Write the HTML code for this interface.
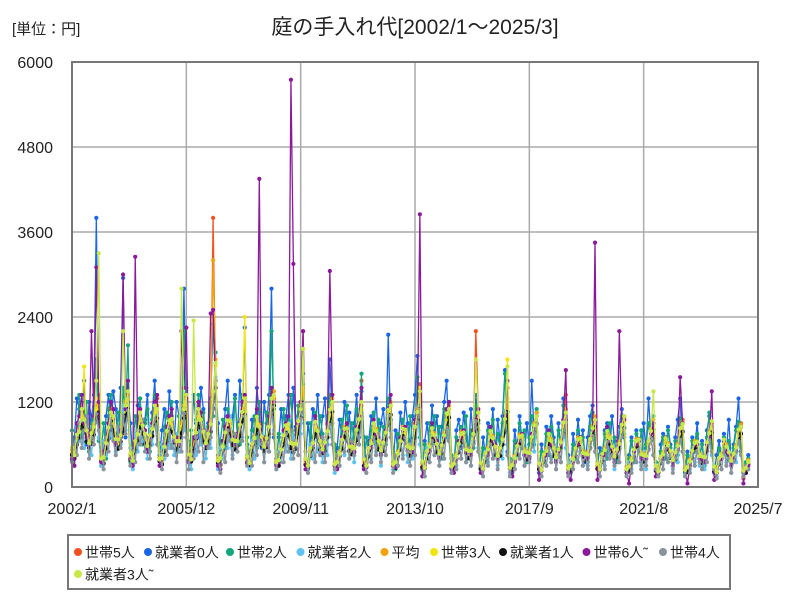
<!DOCTYPE html>
<html><head><meta charset="utf-8">
<style>
html,body{margin:0;padding:0;background:#fff;}
svg text{font-family:"Liberation Sans","Noto Sans CJK JP",sans-serif;fill:#222;}
</style></head>
<body>
<svg id="chart" width="800" height="600" viewBox="0 0 800 600" xmlns="http://www.w3.org/2000/svg">
<rect width="800" height="600" fill="#fff"/>
<text x="12" y="34" font-size="15">[単位：円]</text>
<text x="415" y="34" font-size="21" text-anchor="middle">庭の手入れ代[2002/1～2025/3]</text>
<g id="grid"></g>
<g id="series"></g>
<rect x="72" y="62" width="686" height="425" fill="none" stroke="#777" stroke-width="2"/>
<g id="axes"></g>
<rect x="68" y="535" width="662" height="54" fill="#fff" stroke="#777" stroke-width="2"/>
<g id="legend"></g>
</svg>
<script>
const yTicks=[0,1200,2400,3600,4800,6000];
const xTickLabels=["2002/1","2005/12","2009/11","2013/10","2017/9","2021/8","2025/7"];
const xTickMonths=[0,47,94,141,188,235,282];
const seriesNames=["世帯5人","就業者0人","世帯2人","就業者2人","平均","世帯3人","就業者1人","世帯6人˜","世帯4人","就業者3人˜"];
const seriesColors=["#f4511e","#1a66e6","#13a67a","#5ec3f2","#f0a30a","#f2e40f","#111111","#8b1a9a","#8a939c","#c8e84a"];
const s5=[480,430,760,700,1200,900,820,600,800,950,1050,1300,300,420,700,900,980,1000,650,700,700,1000,1300,1200,400,350,680,850,1100,800,800,550,750,900,1000,1250,380,320,550,800,900,1000,700,680,600,950,1250,1400,400,460,700,750,1150,950,780,600,780,880,3800,1500,350,300,620,800,1000,850,760,580,700,900,1150,1100,420,330,600,700,1050,900,650,640,620,950,1300,1250,350,380,540,750,850,950,600,560,700,850,1200,2200,320,300,560,620,950,780,680,520,560,880,1100,1300,300,350,460,700,800,850,580,580,540,820,950,1500,380,280,560,600,900,780,650,500,640,760,1100,1150,320,340,480,660,820,820,560,540,540,900,1050,1450,280,330,500,560,850,700,620,470,600,720,1050,1100,330,260,420,620,740,780,520,510,500,760,2200,1050,290,310,480,520,800,680,580,440,560,650,980,1400,320,250,400,580,700,740,500,490,480,720,850,1000,260,300,460,500,760,640,560,420,540,620,920,1300,300,230,400,560,650,700,480,470,460,700,820,950,250,290,470,500,800,680,570,430,530,600,900,1000,290,220,380,540,640,680,460,450,440,650,780,900,230,270,420,460,700,580,500,380,490,580,850,950,280,210,360,510,620,640,440,420,420,630,760,850,220,260,400,440,680,560,480,370,470,560,820,900,120,280,360];
const w0=[380,700,1250,1100,900,1500,600,1200,950,1300,3800,900,620,350,1000,1300,800,1350,1100,600,1400,2950,700,1300,900,400,500,1150,1250,700,950,1300,600,1050,1500,850,450,800,1100,600,1350,900,650,1200,1000,700,2800,1100,350,650,1300,900,700,1400,1100,650,900,1250,2300,1500,900,400,600,1100,1500,650,1000,1300,700,1500,950,2250,600,350,950,700,1400,1050,550,1200,900,1300,2800,700,400,700,1100,650,1000,1300,700,1400,850,1000,1200,1600,350,900,600,1100,800,1300,650,1000,1250,600,1800,900,300,550,950,700,1200,650,1050,500,900,1300,700,1350,700,300,650,1000,800,1250,600,900,1100,650,2150,800,350,800,500,1050,700,1200,900,550,1000,1300,1850,700,250,650,900,500,1150,700,1000,450,850,1200,1500,650,400,300,800,950,550,1050,700,500,1100,650,1300,900,250,700,450,900,600,1100,500,950,650,1000,1650,500,350,250,800,550,1000,650,450,900,600,1500,700,1050,200,600,400,850,550,1000,700,400,900,550,1250,700,450,250,750,500,950,600,800,350,700,1000,1150,600,300,550,350,800,900,500,1000,650,400,850,1100,700,200,450,700,400,800,600,350,900,550,1250,700,450,350,200,600,750,450,850,600,300,700,950,1250,500,250,500,350,700,550,900,400,650,300,800,1000,600,200,450,650,400,750,500,950,350,600,850,1250,500,300,200,450];
const s2=[800,450,600,1300,700,1050,1200,500,900,1100,1800,650,500,900,400,1100,1300,800,600,1050,700,1400,1000,2000,350,600,1000,700,1250,600,900,1100,500,950,1300,800,600,350,850,1050,600,1200,700,500,1000,800,2200,950,450,800,500,950,1300,700,1050,600,850,1150,1000,1900,300,650,950,550,1100,800,600,1250,750,600,1300,900,700,300,800,1000,550,1200,900,500,1050,700,2200,1100,350,750,500,1100,700,950,1300,650,800,1150,900,1450,400,250,900,600,1050,650,1000,750,450,1000,1300,700,600,350,550,950,700,1150,500,900,650,1100,800,1600,300,700,450,800,1050,600,950,450,850,600,1250,950,500,250,750,550,950,800,450,1000,600,850,1550,700,250,600,400,900,600,1000,550,850,400,1100,700,1200,450,300,700,500,850,650,1000,400,800,550,1150,800,250,550,350,800,650,950,450,750,550,900,1600,600,400,200,650,450,900,550,800,350,700,1000,600,1100,250,500,350,750,450,850,600,400,800,550,1150,700,300,200,600,400,800,500,700,450,350,850,1050,600,450,250,500,750,400,900,550,700,350,650,1000,750,200,400,650,350,750,500,800,400,600,900,650,1000,350,200,500,700,400,800,550,350,650,450,970,600,200,450,300,650,500,750,400,600,300,700,1050,550,300,200,550,400,700,450,650,350,550,800,920,500,200,350,400];
const w2=[500,300,800,650,1000,550,850,700,450,900,1100,700,300,650,450,900,700,1000,500,800,600,1150,800,1150,550,250,750,500,950,650,750,400,850,600,990,800,300,600,400,850,550,900,450,750,500,1000,800,1080,500,250,700,450,900,600,800,400,700,550,1120,1550,250,550,400,750,550,1000,450,650,500,900,700,1030,450,250,650,400,850,600,750,350,700,500,1160,800,250,500,350,750,500,900,400,700,550,950,750,1200,400,200,600,400,800,500,700,350,650,450,1070,750,200,450,300,700,450,800,400,650,350,850,600,990,400,200,550,400,750,500,650,300,600,450,1030,700,250,450,300,650,450,750,350,600,400,850,1120,600,350,150,550,350,700,450,600,300,550,400,990,700,200,400,300,600,400,700,350,550,300,620,950,550,300,150,500,350,650,400,550,300,500,400,1070,600,200,350,250,550,400,650,300,500,350,700,500,900,300,150,450,300,600,400,550,250,500,350,950,550,200,350,250,500,350,600,300,450,300,650,740,500,300,150,450,300,650,450,550,250,500,350,730,840,150,350,250,500,350,580,300,500,250,600,700,450,300,150,400,250,570,350,500,250,450,350,690,790,150,300,250,450,350,560,300,450,250,550,680,450,250,150,400,250,550,350,500,200,420,350,670,760,150,300,250];
const avg=[520,480,700,820,1050,980,760,650,720,880,1150,1250,430,390,650,800,1100,950,700,640,760,900,1200,1300,450,400,620,780,1000,900,720,600,700,850,1100,1150,420,380,600,760,980,920,740,620,680,900,1150,1250,430,420,640,800,1050,980,750,650,720,920,3200,1800,400,380,600,740,980,900,700,620,680,850,1100,1200,400,370,580,720,950,880,680,600,660,880,1200,1350,380,350,560,700,900,860,650,580,640,900,1150,1400,370,330,520,650,880,820,620,560,600,820,1050,1250,350,320,500,640,850,800,600,540,580,780,1000,1150,360,330,520,650,870,820,620,550,600,800,1050,1200,350,320,500,620,850,780,600,520,580,820,1100,1300,330,300,480,600,800,760,580,500,560,760,1000,1150,320,300,460,580,780,740,560,480,540,720,950,1100,310,290,450,560,760,720,540,470,520,700,920,1250,300,280,440,550,740,700,530,460,510,680,900,1050,300,270,430,540,720,680,520,450,500,660,880,1100,290,270,420,520,700,660,510,440,490,650,860,1000,300,280,440,550,760,720,540,460,500,640,850,980,280,260,410,500,680,640,490,420,470,620,820,950,270,250,400,490,660,620,480,410,460,610,800,920,270,250,390,480,650,610,470,400,450,600,790,900,260,240,380,470,640,600,460,400,440,590,780,880,260,240,380];
const s3=[500,450,680,800,1000,1700,720,620,680,830,1100,1200,410,370,620,760,1050,900,660,610,720,860,1150,1240,430,380,590,740,950,860,680,570,670,810,1050,1090,400,360,570,720,930,870,700,590,650,850,1090,1190,410,400,610,760,1000,930,710,620,680,870,1240,1710,380,360,570,700,930,860,670,590,650,810,1050,2400,380,350,550,680,900,840,650,570,630,840,1140,1280,360,330,530,670,860,820,620,550,610,860,1090,1950,350,310,490,620,840,780,590,530,570,780,1000,1190,330,300,480,610,810,760,570,510,550,740,950,1090,340,310,490,620,830,780,590,520,570,760,1000,1140,330,300,480,590,810,740,570,490,550,780,1050,1400,310,290,460,570,760,720,550,480,530,720,950,1090,300,290,440,550,740,700,530,460,510,680,900,1050,290,280,430,530,720,680,510,450,490,670,870,1800,290,270,420,520,700,670,500,440,480,650,860,1000,290,260,410,510,680,650,490,430,470,630,840,1050,280,260,400,490,670,630,480,420,470,620,820,950,290,270,420,520,720,680,510,440,480,610,810,930,270,250,390,480,650,610,470,400,450,590,780,900,260,240,380,470,630,590,460,390,440,580,760,880,260,240,370,460,620,580,450,380,430,570,750,860,250,230,360,450,610,570,440,380,420,560,740,840,250,230,360];
const w1=[450,400,600,700,880,830,640,550,610,740,960,1050,370,330,550,680,930,800,600,540,640,760,1010,1100,380,340,530,660,850,760,610,510,590,720,930,970,360,320,510,640,830,780,630,530,580,760,970,1050,370,360,540,680,890,830,640,550,610,780,1100,1400,340,320,510,630,830,770,590,530,580,720,930,1020,340,310,490,610,810,750,580,510,560,750,1020,1150,320,300,470,600,760,730,550,490,540,760,980,1190,310,280,440,550,750,700,530,480,510,700,890,1060,300,270,430,540,720,680,510,460,490,660,850,980,300,280,440,550,740,700,530,470,510,680,890,1020,300,270,430,530,720,660,510,440,490,700,940,1100,280,260,410,510,680,650,490,430,480,650,850,980,270,250,390,490,660,630,480,410,460,610,810,940,260,250,380,480,650,610,460,400,440,600,780,1060,260,240,370,470,630,600,450,390,430,580,770,890,250,230,370,460,610,580,440,380,430,560,750,940,250,230,360,440,600,560,430,370,420,550,730,850,260,240,370,470,650,610,460,390,430,540,720,830,240,220,350,430,580,540,420,360,400,530,700,810,230,210,340,420,560,530,410,350,390,520,680,780,230,210,330,410,550,520,400,340,380,510,670,770,220,200,320,400,540,510,390,340,370,500,660,750,220,200,320];
const s6=[400,300,900,1000,1300,900,700,600,2200,1000,3100,1200,350,500,700,900,1200,1100,600,700,800,3000,1100,1500,400,300,3250,800,1100,900,800,500,700,900,1200,1300,300,400,600,850,1000,1100,650,700,600,2200,1400,2250,350,500,700,700,1200,1050,800,600,800,2450,2500,1500,300,250,650,850,1000,800,700,600,750,900,1200,1300,350,400,600,650,1100,4350,650,700,600,1000,1400,1200,300,350,500,800,900,1000,5750,3150,650,900,1200,2200,250,300,550,600,1000,800,700,500,600,900,3050,1300,300,250,450,700,800,900,600,600,500,850,1000,1400,250,350,550,550,950,750,700,450,650,800,1100,1300,300,280,450,700,800,850,550,550,500,950,1000,3850,150,300,500,500,900,700,650,400,600,700,1100,1200,250,200,400,650,700,800,500,500,450,800,950,1100,200,280,450,450,850,650,600,400,550,650,1000,1500,300,150,350,600,650,750,450,500,400,750,850,1000,100,300,400,450,800,600,550,350,500,600,950,1650,200,100,350,550,600,700,450,450,400,700,800,3450,100,250,450,450,850,650,550,350,500,2200,900,950,200,50,350,500,600,650,400,400,400,650,750,900,150,200,400,400,700,550,500,300,450,550,1550,900,250,50,300,500,600,600,400,400,350,600,700,1350,100,200,350,400,650,500,450,300,400,500,800,850,50,250,300];
const s4=[350,600,450,900,550,800,1000,400,700,600,1030,800,600,250,700,500,1000,650,450,850,550,1000,750,1080,300,500,350,800,600,950,500,700,400,850,960,600,500,250,650,450,850,550,750,350,650,500,1040,700,250,550,400,700,500,900,350,800,550,700,1090,1500,450,200,600,350,800,650,400,750,500,950,650,1000,300,500,300,700,450,850,600,350,700,500,1130,750,250,450,600,350,750,500,800,400,650,450,960,1170,500,200,450,650,350,800,450,700,350,750,880,600,250,450,300,650,500,750,400,650,450,800,600,970,400,200,550,350,700,450,750,350,600,450,1010,700,200,450,300,650,400,700,500,300,650,450,920,1090,350,150,500,350,650,450,600,300,550,400,840,650,200,400,250,600,400,650,350,550,300,600,930,500,300,150,450,300,600,400,550,250,500,650,1050,450,150,350,250,550,400,650,300,500,350,570,760,880,300,150,400,300,550,350,600,250,450,350,740,920,150,300,250,500,350,550,300,450,250,540,720,500,350,150,400,250,640,400,450,300,550,350,710,820,150,300,200,450,350,530,250,450,300,520,690,450,250,150,400,250,550,350,450,200,400,510,670,500,150,300,200,450,300,510,350,250,450,350,660,500,250,120,350,250,530,300,400,200,360,490,650,450,150,300,250];
const w3=[560,450,740,780,1100,950,800,620,760,850,1500,3300,400,420,620,840,1050,1000,680,670,730,2200,1150,1350,480,370,650,750,1050,870,750,580,730,820,1150,1100,390,410,570,790,940,960,710,650,650,2800,1100,1300,460,390,2350,770,1100,950,780,620,750,890,1350,1750,370,410,570,770,940,930,670,650,650,880,1060,1250,430,340,610,690,990,850,710,570,690,850,1250,1300,350,380,530,730,870,890,620,610,610,930,1100,1950,400,300,550,620,920,790,650,530,630,790,1090,1200,320,350,470,670,820,830,570,570,550,810,960,1200,390,300,550,620,900,790,650,520,630,770,1090,1150,320,350,470,650,820,810,570,550,550,850,1060,1350,360,270,510,570,830,730,610,470,590,730,1040,1100,290,330,430,610,750,770,530,510,510,750,1800,1050,340,260,480,530,790,690,570,440,550,670,960,1700,270,310,410,580,710,730,500,490,480,710,870,1000,330,240,460,510,750,650,550,420,530,630,910,1050,260,300,390,550,670,690,480,470,460,680,830,950,330,250,470,520,790,690,570,430,530,610,880,1000,250,290,380,530,650,670,460,450,440,650,790,1350,300,220,430,460,690,590,510,380,490,580,830,890,240,280,360,510,620,640,440,430,420,630,760,930,290,210,410,440,670,570,490,370,470,560,810,850,230,270,350];
const seriesValues=[s5,w0,s2,w2,avg,s3,w1,s6,s4,w3];

const NS="http://www.w3.org/2000/svg";
const X0=72,X1=758,Y0=487,Y1=62,MONTHS=282,YMAX=6000;
function xScale(m){return X0+(X1-X0)*m/MONTHS;}
function yScale(v){return Y0-(Y0-Y1)*v/YMAX;}
function mk(tag,attrs,parent){const e=document.createElementNS(NS,tag);for(const k in attrs)e.setAttribute(k,attrs[k]);parent.appendChild(e);return e;}

const grid=document.getElementById('grid'),axes=document.getElementById('axes');
yTicks.forEach(function(t){
  const y=yScale(t);
  if(t>0&&t<YMAX){
    const gl=mk('line',{x1:X0,x2:X1,y1:y,y2:y,stroke:'#aaa','stroke-width':1.5},grid);
    
    
  }
  const tx=mk('text',{x:53,y:y+6,'font-size':16,'text-anchor':'end'},axes);
  tx.textContent=t;
  
  
});
xTickMonths.forEach(function(m,i){
  const x=xScale(m);
  if(i>0&&i<xTickMonths.length-1){
    const gl=mk('line',{x1:x,x2:x,y1:Y1,y2:Y0,stroke:'#aaa','stroke-width':1.5},grid);
    
    
  }
  const tx=mk('text',{x:x,y:514,'font-size':16,'text-anchor':'middle'},axes);
  tx.textContent=xTickLabels[i];
  
  
});

const sg=document.getElementById('series');
seriesValues.forEach(function(vals,si){
  const g=mk('g',{},sg);
  
  
  const pts=vals.map(function(v,i){return xScale(i).toFixed(2)+','+yScale(v).toFixed(2);}).join(' ');
  const pl=mk('polyline',{points:pts,fill:'none',stroke:seriesColors[si],'stroke-width':1.3,'stroke-linejoin':'round'},g);
  
  
  vals.forEach(function(v,i){
    const c=mk('circle',{cx:xScale(i),cy:yScale(v),r:2.1,fill:seriesColors[si]},g);
    
    
  });
});

const lg=document.getElementById('legend');
const legX=[78,148,230,300.5,384.5,434,503,586.5,663,78];
const legY=[552,552,552,552,552,552,552,552,552,574];
seriesNames.forEach(function(n,i){
  const g=mk('g',{},lg);
  
  
  mk('circle',{cx:legX[i],cy:legY[i],r:4,fill:seriesColors[i]},g);
  const t=mk('text',{x:legX[i]+7,y:legY[i]+5.5,'font-size':14},g);
  t.textContent=n;
});
</script>
</body></html>
